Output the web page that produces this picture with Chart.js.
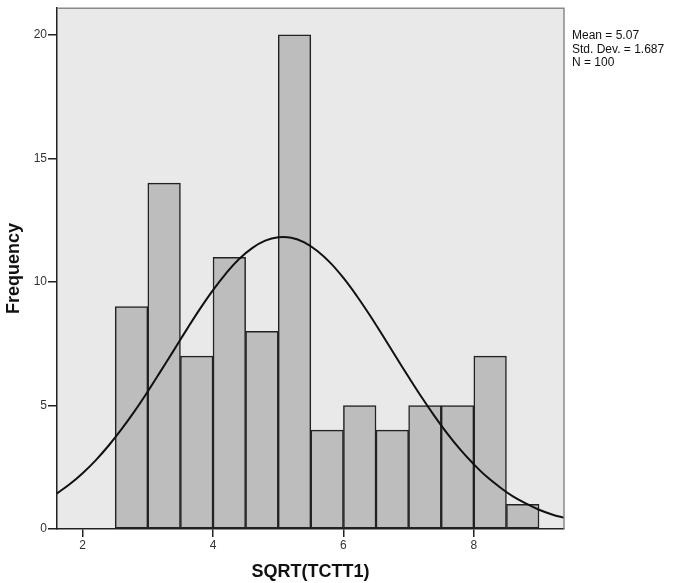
<!DOCTYPE html>
<html>
<head>
<meta charset="utf-8">
<script src="https://cdn.jsdelivr.net/npm/chart.js@4/dist/chart.umd.min.js"></script>
<style>
  body { margin: 0; background: #fff; }
  canvas { display: block; }
</style>
</head>
<body>
<canvas id="histChart" width="676" height="583"></canvas>
<script>
// ---------------- DATA ----------------
const binMids = [2.75, 3.25, 3.75, 4.25, 4.75, 5.25, 5.75, 6.25, 6.75, 7.25, 7.75, 8.25, 8.75];
const counts = [9, 14, 7, 11, 8, 20, 4, 5, 4, 5, 5, 7, 1];

// normal curve
const curveX = [1.6, 1.8, 2.0, 2.2, 2.4, 2.6, 2.8, 3.0, 3.2, 3.4, 3.6, 3.8, 4.0, 4.2, 4.4, 4.6, 4.8,
  5.0, 5.2, 5.4, 5.6, 5.8, 6.0, 6.2, 6.4, 6.6, 6.8, 7.0, 7.2, 7.4, 7.6, 7.8, 8.0, 8.2, 8.4, 8.6,
  8.8, 9.0, 9.2, 9.4];
const curveY = [1.43, 1.81, 2.26, 2.78, 3.38, 4.05, 4.78, 5.57, 6.40, 7.24, 8.09, 8.91, 9.67, 10.35,
  10.93, 11.37, 11.67, 11.81, 11.79, 11.60, 11.25, 10.77, 10.16, 9.45, 8.67, 7.84, 6.99, 6.15,
  5.33, 4.56, 3.84, 3.19, 2.62, 2.11, 1.69, 1.32, 1.03, 0.78, 0.59, 0.44];

const xTicks = [2, 4, 6, 8];
const yTicks = [0, 5, 10, 15, 20];
const statLines = ["Mean = 5.07", "Std. Dev. = 1.687", "N = 100"];

const FONT = "'Liberation Sans', Arial, sans-serif";

// ---------------- PLOT BACKGROUND + STATS TEXT ----------------
const plotDecor = {
  id: "plotDecor",
  beforeDraw(chart) {
    const { ctx, chartArea: a } = chart;
    ctx.save();
    ctx.fillStyle = "#e9e9e9";
    ctx.fillRect(a.left, a.top, a.right - a.left, a.bottom - a.top);
    ctx.restore();
  },
  afterDraw(chart) {
    const { ctx, chartArea: a } = chart;
    ctx.save();
    // top + right frame
    ctx.strokeStyle = "#8a8a8a";
    ctx.lineWidth = 1.5;
    ctx.beginPath();
    ctx.moveTo(a.left, a.top);
    ctx.lineTo(a.right, a.top);
    ctx.lineTo(a.right, a.bottom);
    ctx.stroke();
    // stats
    ctx.fillStyle = "#111";
    ctx.font = "12px " + FONT;
    ctx.textBaseline = "middle";
    statLines.forEach((t, i) => ctx.fillText(t, 572, 36 + i * 13.5));
    ctx.restore();
  }
};

// ---------------- HISTOGRAM ----------------
new Chart(document.getElementById("histChart"), {
  type: "bar",
  data: {
    datasets: [
      {
        type: "line",
        data: curveX.map((x, i) => ({ x: x, y: curveY[i] })),
        borderColor: "#111",
        borderWidth: 2,
        pointRadius: 0,
        tension: 0.4,
        fill: false
      },
      {
        type: "bar",
        data: binMids.map((x, i) => ({ x: x, y: counts[i] })),
        backgroundColor: "#bdbdbd",
        borderColor: "#222",
        borderWidth: 1.5,
        borderSkipped: false,
        barPercentage: 1,
        categoryPercentage: 1
      }
    ]
  },
  options: {
    responsive: false,
    animation: false,
    layout: { padding: { top: 5, right: 112, left: 0, bottom: 0 } },
    plugins: { legend: { display: false }, tooltip: { enabled: false } },
    scales: {
      x: {
        type: "linear",
        offset: false,
        min: 1.607,
        max: 9.383,
        afterBuildTicks: (s) => { s.ticks = xTicks.map(v => ({ value: v })); },
        afterFit: (s) => { s.height = 54; },
        grid: { offset: false, drawOnChartArea: false, drawTicks: true, tickLength: 8, color: "#222", lineWidth: 1.5 },
        border: { color: "#222", width: 1.5 },
        ticks: { color: "#333", font: { family: FONT, size: 12 }, padding: 1, maxRotation: 0 },
        title: {
          display: true,
          text: "SQRT(TCTT1)",
          color: "#111",
          font: { family: FONT, size: 18, weight: "bold" },
          padding: { top: 0, bottom: 0 }
        }
      },
      y: {
        min: 0,
        max: 21.08,
        afterBuildTicks: (s) => { s.ticks = yTicks.map(v => ({ value: v })); },
        afterFit: (s) => { s.width = 57; },
        grid: { drawOnChartArea: false, drawTicks: true, tickLength: 9, color: "#222", lineWidth: 1.5 },
        border: { color: "#222", width: 1.5 },
        ticks: { color: "#333", font: { family: FONT, size: 12 }, padding: 1 },
        title: {
          display: true,
          text: "Frequency",
          color: "#111",
          font: { family: FONT, size: 18, weight: "bold" },
          padding: { top: 3, bottom: 0 }
        }
      }
    }
  },
  plugins: [plotDecor]
});
</script>
</body>
</html>
